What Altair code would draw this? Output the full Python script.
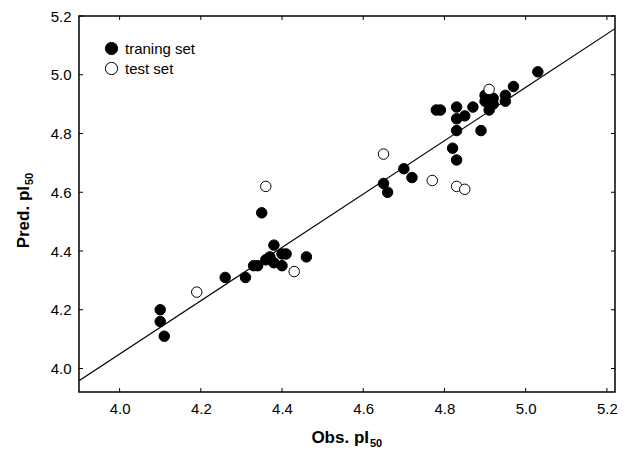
import altair as alt
import pandas as pd

# ---- data ----
train_obs = [4.10, 4.10, 4.11, 4.26, 4.31, 4.33, 4.34, 4.35, 4.36, 4.37, 4.38, 4.38,
             4.40, 4.41, 4.40, 4.46,
             4.65, 4.66, 4.70, 4.72, 4.78, 4.79, 4.82, 4.83, 4.83, 4.83, 4.83, 4.85,
             4.87, 4.89, 4.90, 4.90, 4.91, 4.92, 4.92, 4.95, 4.95, 4.97, 5.03]
train_pred = [4.20, 4.16, 4.11, 4.31, 4.31, 4.35, 4.35, 4.53, 4.37, 4.38, 4.42, 4.36,
              4.39, 4.39, 4.35, 4.38,
              4.63, 4.60, 4.68, 4.65, 4.88, 4.88, 4.75, 4.71, 4.81, 4.85, 4.89, 4.86,
              4.89, 4.81, 4.91, 4.93, 4.88, 4.92, 4.90, 4.91, 4.93, 4.96, 5.01]
test_obs = [4.19, 4.36, 4.43, 4.65, 4.77, 4.83, 4.85, 4.91]
test_pred = [4.26, 4.62, 4.33, 4.73, 4.64, 4.62, 4.61, 4.95]
fit_obs = [3.90, 5.22]
fit_pred = [3.958, 5.157]
tick_values = [4.0, 4.2, 4.4, 4.6, 4.8, 5.0, 5.2]
series_names = ["traning set", "test set"]
x_title_main, x_title_sub = "Obs. pI", "50"
y_title_main, y_title_sub = "Pred. pI", "50"

# ---- layout / style ----
W, H = 536, 376
FONT = "Liberation Sans"
TICK = 4
TITLE_SIZE = 17
SUB_SIZE = 11

pts = pd.DataFrame({
    "obs": train_obs + test_obs,
    "pred": train_pred + test_pred,
    "set": [series_names[0]] * len(train_obs) + [series_names[1]] * len(test_obs),
})
fit_df = pd.DataFrame({"obs": fit_obs, "pred": fit_pred})
ticks_df = pd.DataFrame({"obs": tick_values, "pred": tick_values})

xscale = alt.Scale(domain=[3.90, 5.22], nice=False, zero=False)
yscale = alt.Scale(domain=[3.92, 5.20], nice=False, zero=False)

xaxis = alt.Axis(values=tick_values, format=".1f", title=None, ticks=False, tickSize=0,
                 grid=False, domain=False, labelFlush=False,
                 labelFont=FONT, labelFontSize=15, labelColor="black", labelPadding=9)
yaxis = alt.Axis(values=tick_values, format=".1f", title=None, ticks=False, tickSize=0,
                 grid=False, domain=False, labelFlush=False,
                 labelFont=FONT, labelFontSize=15, labelColor="black", labelPadding=8)

X = alt.X("obs:Q", scale=xscale, axis=xaxis)
Y = alt.Y("pred:Q", scale=yscale, axis=yaxis)

fit = alt.Chart(fit_df).mark_line(color="black", strokeWidth=1.2, clip=True).encode(x=X, y=Y)

points = alt.Chart(pts).mark_circle(size=110, stroke="black", strokeWidth=1, opacity=1).encode(
    x=X, y=Y,
    fill=alt.Fill("set:N",
                  scale=alt.Scale(domain=series_names, range=["black", "white"]),
                  legend=alt.Legend(orient="none", legendX=25, legendY=25, title=None,
                                    padding=0, symbolType="circle", symbolSize=150,
                                    symbolStrokeColor="black", symbolStrokeWidth=1,
                                    symbolOpacity=1, labelFont=FONT, labelFontSize=15,
                                    labelColor="black", labelOffset=6, rowPadding=3)),
)

tick_bottom = alt.Chart(ticks_df).mark_rule(color="black", strokeWidth=1).encode(
    x=X, y=alt.value(H), y2=alt.value(H - TICK))
tick_top = alt.Chart(ticks_df).mark_rule(color="black", strokeWidth=1).encode(
    x=X, y=alt.value(0), y2=alt.value(TICK))
tick_left = alt.Chart(ticks_df).mark_rule(color="black", strokeWidth=1).encode(
    y=Y, x=alt.value(0), x2=alt.value(TICK))
tick_right = alt.Chart(ticks_df).mark_rule(color="black", strokeWidth=1).encode(
    y=Y, x=alt.value(W), x2=alt.value(W - TICK))

# axis titles with real subscripts
one = pd.DataFrame({"k": [0]})
def label(text, size, **kw):
    return alt.Chart(one).mark_text(text=text, font=FONT, fontSize=size, fontWeight="bold",
                                    color="black", baseline="alphabetic", **kw)

xt_main = label(x_title_main, TITLE_SIZE, align="right").encode(
    x=alt.value(W / 2 + 22), y=alt.value(H + 51))
xt_sub = label(x_title_sub, SUB_SIZE, align="left").encode(
    x=alt.value(W / 2 + 23), y=alt.value(H + 55))
yt_main = label(y_title_main, TITLE_SIZE, align="right", angle=270).encode(
    x=alt.value(-50), y=alt.value(H / 2 - 18))
yt_sub = label(y_title_sub, SUB_SIZE, align="left", angle=270).encode(
    x=alt.value(-46), y=alt.value(H / 2 - 19))

chart = alt.layer(fit, points, tick_bottom, tick_top, tick_left, tick_right,
                  xt_main, xt_sub, yt_main, yt_sub).properties(
    width=W, height=H,
    autosize=alt.AutoSizeParams(type="none"),
    padding={"left": 71, "top": 8, "right": 5, "bottom": 58},
    background="white",
).configure_view(stroke="black", strokeWidth=1.5)

chart.save("out.html", embed_options={"renderer": "svg", "actions": False})
